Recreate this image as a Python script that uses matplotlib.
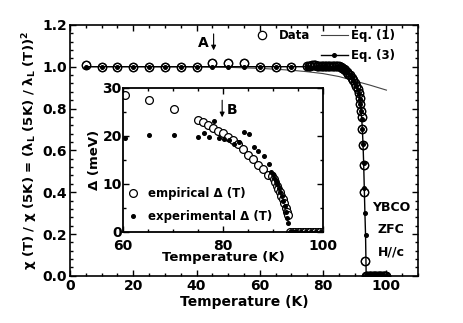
import numpy as np
import matplotlib
matplotlib.use("Agg")
import matplotlib.pyplot as plt
from matplotlib.lines import Line2D
from matplotlib.ticker import MultipleLocator

plt.rcParams['font.family'] = ['DejaVu Sans']
plt.rcParams['font.weight'] = 'bold'
plt.rcParams['mathtext.default'] = 'bf'
plt.rcParams['font.size'] = 9

# main panel: normalised susceptibility vs temperature
data_T = [5, 10, 15, 20, 25, 30, 35, 40, 45, 50, 55, 60, 65, 70,
          75, 75.5, 76, 76.5, 77, 77.5, 78, 78.5, 79, 79.5, 80, 80.5, 81, 81.5,
          82, 82.5, 83, 83.5, 84, 84.5, 85, 85.5, 86, 86.5, 87, 87.5, 88, 88.5,
          89, 89.5, 90, 90.5, 91, 91.3, 91.6, 91.8, 92.0, 92.2, 92.4, 92.6,
          92.8, 93.0, 93.3,
          93.6, 94.0, 94.4, 94.8, 95.2, 95.6, 96.0, 96.4, 96.8, 97.2, 97.6,
          98.0, 98.4, 98.8, 99.2, 99.6, 100.0]
data_chi = [1.008, 0.999, 1.0, 1.0, 1.0, 1.0, 1.0, 1.0, 1.02, 1.02, 1.02, 1.0, 1.0, 1.0,
            1.005, 1.005, 1.005, 1.006, 1.006, 1.006, 1.005, 1.005, 1.004, 1.004, 1.003,
            1.003, 1.002, 1.002, 1.002, 1.002, 1.003, 1.004, 1.004, 1.004, 1.002, 0.998,
            0.993, 0.988, 0.982, 0.975, 0.967, 0.958, 0.948, 0.937, 0.924, 0.910, 0.893,
            0.874, 0.850, 0.820, 0.790, 0.760, 0.700, 0.625, 0.530, 0.400, 0.070,
            0, 0, 0, 0, 0, 0, 0, 0, 0, 0, 0, 0, 0, 0, 0, 0, 0]

eq1_T = [5, 20, 40, 50, 60, 65, 70, 75, 80, 85, 90, 95, 100]
eq1_chi = [1.0, 1.0, 0.999, 0.997, 0.992, 0.988, 0.983, 0.976, 0.967, 0.953, 0.932, 0.911, 0.888]

eq3_T = [5, 10, 15, 20, 25, 30, 35, 40, 45, 50, 55, 60, 65, 70,
         75, 76, 77, 78, 79, 80, 81, 82, 83, 84, 85, 85.5, 86, 86.5, 87, 87.5,
         88, 88.5, 89, 89.5, 90, 90.5, 91, 91.3, 91.6, 91.8, 92.0, 92.2, 92.4,
         92.6, 92.8, 93.0, 93.2, 93.4, 93.6,
         93.8, 94.0, 94.2, 94.4, 94.6, 94.8, 95.0, 95.5, 96.0, 97.0, 98.0, 99.0, 100.0]
eq3_chi = [1.0] * 25 + [0.998, 0.995, 0.99, 0.985, 0.978, 0.97, 0.961, 0.95, 0.938,
                        0.924, 0.908, 0.888, 0.87, 0.845, 0.82, 0.79, 0.75, 0.70,
                        0.63, 0.54, 0.42, 0.30, 0.196, 0.0,
                        0, 0, 0, 0, 0, 0, 0, 0, 0, 0, 0, 0, 0]

# inset: gap vs temperature
emp_T = [60.3, 65.2, 70.1, 75.0, 76.0, 77.0, 78.0, 79.0, 80.0, 81.0, 82.0, 83.0,
         84.0, 85.0, 86.0, 87.0, 88.0, 89.0, 89.8, 90.1, 90.4, 90.7, 91.0, 91.3,
         91.6, 91.9, 92.2, 92.5, 92.8, 93.0,
         93.4, 93.9, 94.4, 94.9, 95.4, 95.9, 96.4, 96.9, 97.4, 97.9, 98.4, 98.9,
         99.4, 99.9]
emp_gap = [28.6, 27.4, 25.6, 23.3, 22.8, 22.3, 21.7, 21.1, 20.5, 19.8, 19.1, 18.3,
           17.2, 16.1, 15.1, 14.0, 13.0, 11.9, 11.6, 11.0, 10.3, 9.6, 9.0, 8.3,
           7.5, 6.8, 6.0, 5.0, 4.2, 3.5,
           0, 0, 0, 0, 0, 0, 0, 0, 0, 0, 0, 0, 0, 0]

exp_T = [60.3, 65.1, 70.1, 74.9, 76.1, 77.1, 78.1, 79.1, 80.2, 81.1, 82.1, 83.1,
         84.1, 85.1, 86.1, 86.9, 88.1, 89.1, 89.6, 89.9, 90.2, 90.5, 90.8, 91.1,
         91.4, 91.7, 92.0, 92.3, 92.6, 92.8, 93.0,
         93.3, 93.6, 93.9, 94.2, 94.5, 94.8, 95.5, 96.5, 97.5, 98.5, 99.5]
exp_gap = [19.5, 20.2, 20.2, 19.7, 20.6, 19.7, 23.0, 19.5, 19.3, 19.2, 18.3, 18.7,
           20.8, 20.4, 17.6, 16.9, 15.9, 14.2, 12.5, 12.0, 11.3, 10.6, 9.9, 9.1,
           8.3, 7.4, 6.5, 5.4, 4.2, 3.0, 1.8,
           0, 0, 0, 0, 0, 0, 0, 0, 0, 0, 0]

fig = plt.figure(figsize=(4.63, 3.23), dpi=100)
ax = fig.add_axes([0.151, 0.146, 0.752, 0.777])

ax.plot(eq1_T, eq1_chi, '-', color='#444444', lw=0.8)
ax.plot(data_T, data_chi, 'o', mfc='white', mec='black', ms=6, mew=0.9)
ax.plot(eq3_T, eq3_chi, '-', color='black', lw=1.0, marker='o', ms=2.6)
# open circles again on top, hollow so the dots stay visible
ax.plot(data_T, data_chi, 'o', mfc='none', mec='black', ms=6, mew=0.9)

ax.set_xlim(0, 110)
ax.set_ylim(0, 1.2)
ax.xaxis.set_major_locator(MultipleLocator(20))
ax.xaxis.set_minor_locator(MultipleLocator(5))
ax.yaxis.set_major_locator(MultipleLocator(0.2))
ax.yaxis.set_minor_locator(MultipleLocator(0.04))
ax.yaxis.set_major_formatter(plt.FormatStrFormatter('%.1f'))
ax.tick_params(which='both', direction='in', top=True, right=True, width=1)
ax.tick_params(which='major', length=4, labelsize=10, pad=2)
ax.tick_params(which='minor', length=2)
for s in ax.spines.values():
    s.set_linewidth(1.2)
ax.set_xlabel('Temperature (K)', fontsize=10, fontweight='bold', labelpad=2)
ax.set_ylabel('χ (T) / χ (5K) = (λ$_L$ (5K) / λ$_L$ (T))$^2$', fontsize=9.5,
              fontweight='bold', labelpad=2)

h_data = Line2D([], [], ls='none', marker='o', mfc='white', mec='black', ms=6, mew=0.9)
h_eq1 = Line2D([], [], color='#444444', lw=0.8)
h_eq3 = Line2D([], [], color='black', lw=1.0, marker='o', ms=2.6)
h_blank = Line2D([], [], ls='none')
ax.legend([h_data, h_blank, h_eq1, h_eq3], ['Data', '', 'Eq. (1)', 'Eq. (3)'],
          ncol=2, frameon=False, loc='upper right', bbox_to_anchor=(0.935, 0.985),
          borderpad=0, borderaxespad=0, handlelength=2.3, handletextpad=0.3,
          columnspacing=0.9, labelspacing=0.65, fontsize=8.5, numpoints=1)

ax.annotate('', xy=(45.4, 1.065), xytext=(45.4, 1.17),
            arrowprops=dict(arrowstyle='-|>', color='black', lw=0.8,
                            mutation_scale=7))
ax.text(42, 1.114, 'A', ha='center', va='center', fontsize=10, fontweight='bold')
ax.text(101.5, 0.325, 'YBCO', ha='center', va='center', fontsize=9, fontweight='bold')
ax.text(101.5, 0.22, 'ZFC', ha='center', va='center', fontsize=9, fontweight='bold')
ax.text(101.5, 0.115, 'H//c', ha='center', va='center', fontsize=9, fontweight='bold')

# inset
ins = fig.add_axes([0.266, 0.282, 0.432, 0.446])
ins.plot(emp_T, emp_gap, 'o', mfc='white', mec='black', ms=5.6, mew=0.9,
         label='empirical Δ (T)')
ins.plot(exp_T, exp_gap, 'o', color='black', ms=2.6, ls='none',
         label='experimental Δ (T)')
ins.set_xlim(60, 100)
ins.set_ylim(0, 30)
ins.xaxis.set_major_locator(MultipleLocator(20))
ins.xaxis.set_minor_locator(MultipleLocator(5))
ins.yaxis.set_major_locator(MultipleLocator(10))
ins.yaxis.set_minor_locator(MultipleLocator(5))
ins.tick_params(which='both', direction='in', top=True, right=True, width=1)
ins.tick_params(which='major', length=4, labelsize=10)
ins.tick_params(axis='x', pad=5)
ins.tick_params(axis='y', pad=1)
ins.tick_params(which='minor', length=2)
for s in ins.spines.values():
    s.set_linewidth(1.3)
ins.set_xlabel('Temperature (K)', fontsize=9.5, fontweight='bold', labelpad=-1)
ins.set_ylabel('Δ (meV)', fontsize=9.5, fontweight='bold', labelpad=1)
ins.legend(loc='lower left', bbox_to_anchor=(0.02, 0.06), frameon=False,
           borderpad=0, borderaxespad=0, handlelength=1.0, handletextpad=0.8,
           labelspacing=0.9, fontsize=8.5, numpoints=1)
ins.annotate('', xy=(79.8, 23.3), xytext=(79.8, 28.0),
             arrowprops=dict(arrowstyle='-|>', color='black', lw=0.8,
                             mutation_scale=7))
ins.text(81.8, 25.4, 'B', ha='center', va='center', fontsize=10, fontweight='bold')

fig.savefig('out.png', dpi=100)
